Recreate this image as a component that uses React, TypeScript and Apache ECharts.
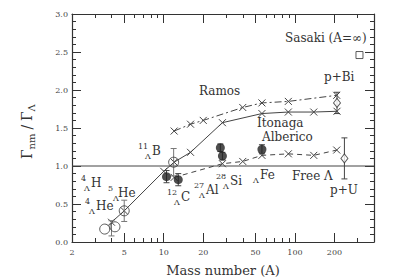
import React, { useEffect, useRef } from 'react';
import * as echarts from 'echarts';

const FONT = 'DejaVu Serif';
const INK = '#333';
const LINE = '#444';

// axis ranges and ticks
const X_MIN = 2;
const X_MAX = 400;
const Y_MIN = 0;
const Y_MAX = 3;
const Y_INTERVAL = 0.5;
const xMajorTicks = [2, 5, 10, 20, 50, 100, 200];
const xMinorTicks = [3, 4, 6, 7, 8, 9, 30, 40, 60, 70, 80, 90, 300, 400];

// free Lambda decay reference
const freeLambda = 1.0;

// theory curves (mass number, ratio)
const solidA = [4, 5, 10, 12, 16, 28, 56, 89, 139, 209];
const solidV = [0.26, 0.41, 0.93, 1.05, 1.18, 1.57, 1.69, 1.71, 1.71, 1.72];
const ramosA = [12, 16, 20, 40, 56, 89, 208];
const ramosV = [1.46, 1.55, 1.6, 1.77, 1.83, 1.85, 1.93];
const dashedA = [12, 28, 40, 56, 89, 139, 208];
const dashedV = [0.85, 1.03, 1.06, 1.14, 1.16, 1.14, 1.21];

// experimental points
const filledA = [10.5, 12.9, 27, 28, 56];
const filledV = [0.86, 0.82, 1.24, 1.13, 1.22];
const filledErr = [0.08, 0.08, 0.05, 0.05, 0.06];
const openA = [3.55, 4.25, 5, 11.9];
const openV = [0.17, 0.2, 0.41, 1.05];
const openErr = [0, 0, 0.14, 0.18];
const extraErrA = [4.0];
const extraErrV = [0.18];
const extraErr = [0.1];
const diamondA = [209, 238];
const diamondV = [1.83, 1.1];
const diamondErr = [0.14, 0.27];
const sasakiA = [310];
const sasakiV = [2.46];

const lg = (v: number) => Math.log10(v);
const pairs = (a: number[], v: number[]) => a.map((x, i) => [lg(x), v[i]]);
const triples = (a: number[], v: number[], e: number[]) => a.map((x, i) => [lg(x), v[i], e[i]]);

const textEl = (text: string, x: number, y: number, size = 12, family = FONT) => ({
  type: 'text',
  x,
  y,
  silent: true,
  style: {
    text,
    font: `${size}px ${family}`,
    fontFamily: family,
    fontSize: size,
    fill: INK,
    align: 'left',
    verticalAlign: 'middle',
  },
});

// nuclide labels: superscript mass, subscript Lambda, element
const nuclide = (mass: string, elem: string, elemX: number, y: number, massX: number, lamX?: number) => {
  const els: any[] = [];
  if (mass) els.push(textEl(mass, massX, y - 5, 8));
  els.push(textEl('Λ', lamX !== undefined ? lamX : elemX - 7, y + 5, 8));
  els.push(textEl(elem, elemX, y, 12));
  return els;
};

export default function App() {
  const ref = useRef<HTMLDivElement>(null);
  useEffect(() => {
    document.body.style.margin = '0';
    if (!ref.current) return;
    const chart = echarts.init(ref.current, undefined, { renderer: 'svg' });

    const axisLineStyle = { color: INK, width: 1.2 };
    const xBase: any = {
      type: 'value',
      min: lg(X_MIN),
      max: lg(X_MAX),
      splitLine: { show: false },
      axisLine: { show: true, onZero: false, lineStyle: axisLineStyle },
    };
    const majorTick = {
      show: true,
      inside: true,
      length: 9,
      customValues: xMajorTicks.map(lg),
      lineStyle: { color: INK, width: 1 },
    };
    const minorTick = {
      show: true,
      inside: true,
      length: 4,
      customValues: xMinorTicks.map(lg),
      lineStyle: { color: INK, width: 1 },
    };
    const yBase: any = {
      type: 'value',
      min: Y_MIN,
      max: Y_MAX,
      interval: Y_INTERVAL,
      splitLine: { show: false },
      minorSplitLine: { show: false },
      axisLine: { show: true, onZero: false, lineStyle: axisLineStyle },
      axisTick: { show: true, inside: true, length: 9, lineStyle: { color: INK, width: 1 } },
      minorTick: { show: true, splitNumber: 5, length: 4, lineStyle: { color: INK, width: 1 } },
    };

    const xMarker = 'path://M0,0L10,10M10,0L0,10';
    const markerStyle = { color: 'rgba(0,0,0,0)', borderColor: LINE, borderWidth: 1 };

    const errRender = (color: string) => (params: any, api: any) => {
      const x = api.value(0);
      const y = api.value(1);
      const e = api.value(2);
      if (!e) return null;
      const top = api.coord([x, y + e]);
      const bot = api.coord([x, y - e]);
      const cap = 3;
      const st = { stroke: color, lineWidth: 1 };
      return {
        type: 'group',
        children: [
          { type: 'line', shape: { x1: top[0], y1: top[1], x2: bot[0], y2: bot[1] }, style: st },
          { type: 'line', shape: { x1: top[0] - cap, y1: top[1], x2: top[0] + cap, y2: top[1] }, style: st },
          { type: 'line', shape: { x1: bot[0] - cap, y1: bot[1], x2: bot[0] + cap, y2: bot[1] }, style: st },
        ],
      };
    };

    const graphics: any[] = [
      textEl('Sasaki (A=∞)', 285, 38),
      textEl('p+Bi', 324, 77),
      textEl('Ramos', 199, 91),
      textEl('Itonaga', 257, 123),
      textEl('Alberico', 262, 137),
      textEl('Free Λ', 292, 176),
      textEl('p+U', 330, 190),
      ...nuclide('4', 'H', 91, 183, 81),
      ...nuclide('4', 'He', 96, 206, 85),
      ...nuclide('5', 'He', 118, 193, 108, 113),
      ...nuclide('11', 'B', 152, 151, 138),
      ...nuclide('12', 'C', 181, 197, 167),
      ...nuclide('27', 'Al', 206, 190, 194),
      ...nuclide('28', 'Si', 230, 181, 216),
      ...nuclide('', 'Fe', 260, 175, 0),
      {
        type: 'group',
        x: 27,
        y: 131,
        rotation: Math.PI / 2,
        children: [
          textEl('Γ', -28, 0, 14),
          textEl('nm', -18.5, 4, 10),
          textEl('/', 1.5, 0, 14),
          textEl('Γ', 10, 0, 14),
          textEl('Λ', 19.5, 4, 10),
        ],
      },
    ];

    chart.setOption({
      animation: false,
      backgroundColor: '#fff',
      textStyle: { fontFamily: FONT },
      grid: { left: 72, right: 32, top: 14, bottom: 37, containLabel: false, outerBoundsMode: 'none' },
      xAxis: [
        {
          ...xBase,
          position: 'bottom',
          axisTick: majorTick,
          axisLabel: {
            show: true,
            customValues: xMajorTicks.map(lg),
            formatter: (v: number) => String(Math.round(Math.pow(10, v))),
            fontFamily: FONT,
            fontSize: 8,
            color: '#444',
            margin: 6,
          },
          name: 'Mass number (A)',
          nameLocation: 'middle',
          nameGap: 22,
          nameTextStyle: { fontFamily: FONT, fontSize: 13, color: INK },
        },
        { ...xBase, position: 'bottom', axisLine: { show: false, onZero: false }, axisTick: minorTick, axisLabel: { show: false } },
        { ...xBase, position: 'top', axisTick: majorTick, axisLabel: { show: false } },
        { ...xBase, position: 'top', axisLine: { show: false, onZero: false }, axisTick: minorTick, axisLabel: { show: false } },
      ],
      yAxis: [
        {
          ...yBase,
          position: 'left',
          axisLabel: {
            show: true,
            formatter: (v: number) => v.toFixed(1),
            fontFamily: FONT,
            fontSize: 8,
            color: '#444',
            margin: 4,
          },
        },
        { ...yBase, position: 'right', axisLabel: { show: false } },
      ],
      graphic: graphics,
      series: [
        {
          type: 'line',
          data: [[lg(X_MIN), freeLambda], [lg(X_MAX), freeLambda]],
          symbol: 'none',
          lineStyle: { color: LINE, width: 1 },
          silent: true,
          z: 2,
        },
        {
          type: 'line',
          data: pairs(solidA, solidV),
          symbol: xMarker,
          symbolSize: 7,
          showSymbol: true,
          itemStyle: markerStyle,
          lineStyle: { color: LINE, width: 1 },
          z: 3,
        },
        {
          type: 'line',
          data: pairs(ramosA, ramosV),
          symbol: xMarker,
          symbolSize: 7,
          showSymbol: true,
          itemStyle: markerStyle,
          lineStyle: { color: LINE, width: 1, type: [7, 3, 2, 3] },
          z: 3,
        },
        {
          type: 'line',
          data: pairs(dashedA, dashedV),
          symbol: xMarker,
          symbolSize: 7,
          showSymbol: true,
          itemStyle: markerStyle,
          lineStyle: { color: LINE, width: 1, type: [5, 4] },
          z: 3,
        },
        {
          type: 'custom',
          data: triples(filledA, filledV, filledErr),
          renderItem: errRender(LINE),
          z: 4,
          silent: true,
        },
        {
          type: 'custom',
          data: [...triples(openA, openV, openErr), ...triples(extraErrA, extraErrV, extraErr)],
          renderItem: errRender('#777'),
          z: 4,
          silent: true,
        },
        {
          type: 'custom',
          data: triples(diamondA, diamondV, diamondErr),
          renderItem: errRender(LINE),
          z: 4,
          silent: true,
        },
        {
          type: 'scatter',
          data: pairs(filledA, filledV),
          symbol: 'circle',
          symbolSize: 9,
          itemStyle: { color: '#222' },
          z: 5,
        },
        {
          type: 'scatter',
          data: pairs(openA, openV),
          symbol: 'circle',
          symbolSize: 10,
          itemStyle: { color: 'rgba(0,0,0,0)', borderColor: INK, borderWidth: 1 },
          z: 5,
        },
        {
          type: 'scatter',
          data: pairs(diamondA, diamondV),
          symbol: 'diamond',
          symbolSize: [7, 9],
          itemStyle: { color: '#fff', borderColor: INK, borderWidth: 1 },
          z: 5,
        },
        {
          type: 'scatter',
          data: pairs(sasakiA, sasakiV),
          symbol: 'rect',
          symbolSize: 7,
          itemStyle: { color: '#fff', borderColor: INK, borderWidth: 1 },
          z: 5,
        },
      ],
    });
    return () => chart.dispose();
  }, []);
  return <div ref={ref} style={{ width: 406, height: 279 }} />;
}
